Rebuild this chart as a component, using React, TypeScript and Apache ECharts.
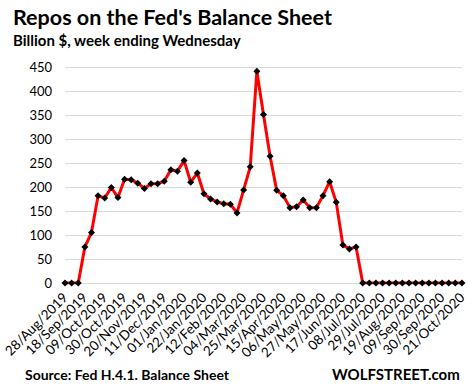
import React, { useEffect, useRef } from "react";
import * as echarts from "echarts";

const weeks = [
  "28/Aug/2019","04/Sep/2019","11/Sep/2019","18/Sep/2019","25/Sep/2019","02/Oct/2019","09/Oct/2019","16/Oct/2019","23/Oct/2019","30/Oct/2019",
  "06/Nov/2019","13/Nov/2019","20/Nov/2019","27/Nov/2019","04/Dec/2019","11/Dec/2019","18/Dec/2019","25/Dec/2019","01/Jan/2020","08/Jan/2020",
  "15/Jan/2020","22/Jan/2020","29/Jan/2020","05/Feb/2020","12/Feb/2020","19/Feb/2020","26/Feb/2020","04/Mar/2020","11/Mar/2020","18/Mar/2020",
  "25/Mar/2020","01/Apr/2020","08/Apr/2020","15/Apr/2020","22/Apr/2020","29/Apr/2020","06/May/2020","13/May/2020","20/May/2020","27/May/2020",
  "03/Jun/2020","10/Jun/2020","17/Jun/2020","24/Jun/2020","01/Jul/2020","08/Jul/2020","15/Jul/2020","22/Jul/2020","29/Jul/2020","05/Aug/2020",
  "12/Aug/2020","19/Aug/2020","26/Aug/2020","02/Sep/2020","09/Sep/2020","16/Sep/2020","23/Sep/2020","30/Sep/2020","07/Oct/2020","14/Oct/2020",
  "21/Oct/2020",
];

const repos = [
  0, 0, 0, 75, 105, 182, 177, 199, 178, 216,
  215, 208, 197, 207, 207, 212, 236, 233, 255, 210,
  229, 186, 175, 169, 165, 164, 146, 194, 242, 441,
  351, 264, 193, 182, 157, 159, 173, 157, 157, 182,
  211, 168, 79, 71, 75, 0, 0, 0, 0, 0,
  0, 0, 0, 0, 0, 0, 0, 0, 0, 0,
  0,
];

const title = "Repos on the Fed's Balance Sheet";
const subtitle = "Billion $, week ending Wednesday";
const source = "Source: Fed H.4.1. Balance Sheet";
const brand = "WOLFSTREET.com";

const FONT = "Lato, 'Noto Sans', sans-serif";

export default function App() {
  const ref = useRef<HTMLDivElement>(null);
  useEffect(() => {
    if (!ref.current) return;
    const chart = echarts.init(ref.current, null, { renderer: "svg" });
    chart.setOption({
      animation: false,
      backgroundColor: "#ffffff",
      textStyle: { fontFamily: FONT },
      graphic: [
        { type: "text", left: 13, top: 6, style: { text: title, font: `bold 21.5px ${FONT}`, fill: "#000" } },
        { type: "text", left: 13, top: 32, style: { text: subtitle, font: `bold 15px ${FONT}`, fill: "#000" } },
        { type: "text", left: 25, top: 367, style: { text: source, font: `bold 14px ${FONT}`, fill: "#000" } },
        { type: "text", left: 332, top: 366, style: { text: brand, font: `bold 15px ${FONT}`, fill: "#000" } },
      ],
      grid: { left: 59, right: 7, top: 67, bottom: 107, containLabel: false },
      xAxis: {
        type: "category",
        data: weeks,
        boundaryGap: false,
        axisLine: { show: false },
        axisTick: { show: false },
        splitLine: { show: false },
        axisLabel: {
          interval: 2,
          rotate: 45,
          margin: 12,
          fontSize: 13.5,
          color: "#000",
          fontFamily: FONT,
        },
      },
      yAxis: {
        type: "value",
        min: 0,
        max: 450,
        interval: 50,
        axisLine: { show: false },
        axisTick: { show: false },
        splitLine: { lineStyle: { color: "#d9d9d9", width: 1 } },
        axisLabel: { fontSize: 13, color: "#000", margin: 13, fontFamily: FONT },
      },
      series: [
        {
          type: "line",
          data: repos,
          symbol: "diamond",
          symbolSize: 7,
          showAllSymbol: true,
          itemStyle: { color: "#000" },
          lineStyle: { color: "#ff0000", width: 3 },
          z: 3,
        },
      ],
    });
    return () => chart.dispose();
  }, []);
  return (
    <div
      ref={ref}
      style={{ position: "fixed", left: 0, top: 0, width: 469, height: 390 }}
    />
  );
}
